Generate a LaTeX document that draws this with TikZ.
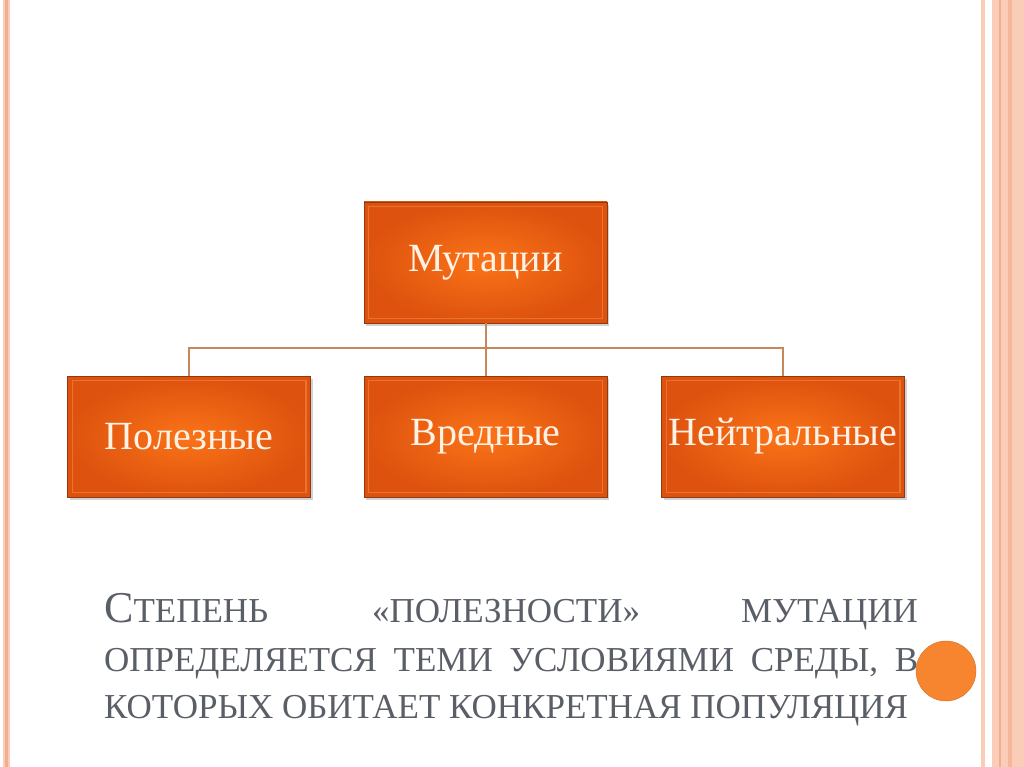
\documentclass[tikz,border=0pt]{standalone}
\usepackage{fontspec}
\setmainfont{Liberation Serif}
\newfontfamily\narrowserif{Liberation Serif}
\usetikzlibrary{shadows}
\definecolor{stripeA}{HTML}{F9CDB8}
\definecolor{stripeB}{HTML}{F2AE90}
\definecolor{boxIn}{HTML}{FB7318}
\definecolor{boxOut}{HTML}{DD520E}
\definecolor{boxEdge}{HTML}{8E3A10}
\definecolor{boxRim}{HTML}{FF9A55}
\definecolor{boxText}{HTML}{FFF2E4}
\definecolor{linkCol}{HTML}{C8875A}
\definecolor{bodyText}{HTML}{5A5E66}
\definecolor{dotCol}{HTML}{F7842F}
\tikzset{
  catbox/.style={rectangle, minimum width=243pt, minimum height=121pt,
    inner color=boxIn, outer color=boxOut, draw=boxEdge, line width=0.8pt,
    text=boxText, font=\fontsize{40}{42}\selectfont,
    drop shadow={shadow xshift=2pt, shadow yshift=-3pt, opacity=0.35}},
  rim/.style={draw=boxRim, line width=1.2pt, opacity=0.45},
  link/.style={draw=linkCol, line width=2pt},
  bodyline/.style={anchor=base west, inner sep=0pt, text=bodyText,
    font=\narrowserif\fontsize{35}{35}\selectfont}
}
\begin{document}
\begin{tikzpicture}[x=1pt,y=-1pt]
\useasboundingbox (0,0) rectangle (1024,767);
\fill[white] (0,0) rectangle (1024,767);
% left border stripes
\fill[stripeA] (3,0) rectangle (10,767);
\fill[stripeB] (5,0) rectangle (8,767);
% right border stripes
\fill[stripeA] (981,0) rectangle (985,767);
\fill[stripeA] (992,0) rectangle (1024,767);
\fill[stripeB] (999,0) rectangle (1001,767);
\fill[stripeB!70!stripeA] (1008,0) rectangle (1012,767);
% boxes
\node[catbox] (top) at (485.5,262.5) {Мутации};
\node[catbox] (left) at (189,436.5) {Полезные};
\node[catbox] (mid) at (485.5,436.5) {Вредные};
\node[catbox] (right) at (783,436.5) {Нейтральные};
\foreach \b in {top,left,mid,right}{
  \draw[rim] ([shift={(5,5)}]\b.north west) rectangle ([shift={(-5,-5)}]\b.south east);
}
% connectors
\coordinate (j) at (485.5,348);
\draw[link] (top.south) -- (j);
\draw[link] (left.north) |- (j) -| (right.north);
\draw[link] (j) -- (mid.north);
% bottom text
\node[bodyline] (w1) at (104,622) {{\fontsize{44}{44}\selectfont С}ТЕПЕНЬ};
\node[bodyline] (w2) at (372,622) {«ПОЛЕЗНОСТИ»};
\node[bodyline, anchor=base east] (w3) at (918,622) {МУТАЦИИ};
\node[bodyline] (l2) at (104,671) {\makebox[814pt][s]{ОПРЕДЕЛЯЕТСЯ ТЕМИ УСЛОВИЯМИ СРЕДЫ, В}};
\node[bodyline] (l3) at (104,718) {КОТОРЫХ ОБИТАЕТ КОНКРЕТНАЯ ПОПУЛЯЦИЯ};
% orange dot
\node[circle, fill=dotCol, draw=dotCol!85!black, line width=0.4pt, minimum size=60pt, inner sep=0pt] (dot) at (946,671) {};
\end{tikzpicture}
\end{document}
